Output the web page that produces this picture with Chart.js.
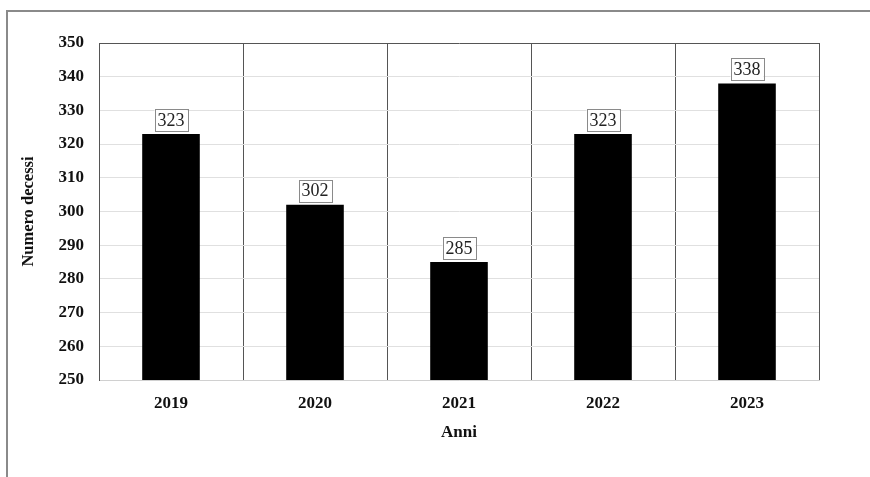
<!DOCTYPE html>
<html>
<head>
<meta charset="utf-8">
<script src="https://cdn.jsdelivr.net/npm/chart.js@4.4.1/dist/chart.umd.min.js"></script>
<style>
  html, body { margin: 0; padding: 0; background: #fff; }
  #wrap { position: relative; width: 870px; height: 477px; overflow: hidden; }
  #frame { position: absolute; left: 6px; top: 10px; width: 900px; height: 500px;
           border-left: 2px solid #8a8a8a; border-top: 2px solid #8a8a8a; }
  canvas { position: absolute; left: 0; top: 0; }
</style>
</head>
<body>
<div id="wrap">
  <div id="frame"></div>
  <canvas id="deaths-chart" width="870" height="477"></canvas>
</div>
<script>
var years = ["2019", "2020", "2021", "2022", "2023"];
var deaths = [323, 302, 285, 323, 338];
var yMin = 250;
var yMax = 350;
var yStep = 10;

var serif = "'Liberation Serif', 'Times New Roman', serif";

// boxed value above each bar
var boxLabels = {
  id: 'boxLabels',
  afterDatasetsDraw: function (chart) {
    var ctx = chart.ctx;
    var meta = chart.getDatasetMeta(0);
    ctx.save();
    ctx.font = "18px " + serif;
    ctx.textAlign = "center";
    ctx.textBaseline = "middle";
    meta.data.forEach(function (bar, i) {
      var text = String(deaths[i]);
      var w = ctx.measureText(text).width + 6;
      var h = 22;
      var bottom = bar.y - 3;
      ctx.fillStyle = "#fff";
      ctx.fillRect(bar.x - w / 2, bottom - h, w, h);
      ctx.strokeStyle = "#8a8a8a";
      ctx.lineWidth = 1;
      ctx.strokeRect(Math.round(bar.x - w / 2) + 0.5, Math.round(bottom - h) + 0.5, Math.round(w), h);
      ctx.fillStyle = "#222";
      ctx.fillText(text, bar.x, bottom - h / 2 + 1);
    });
    ctx.restore();
  }
};

var chartConfig = {
  type: 'bar',
  data: {
    labels: years,
    datasets: [
      {
        label: 'Numero decessi',
        data: deaths,
        backgroundColor: "#000",
        borderWidth: 0,
        barPercentage: 0.4,
        categoryPercentage: 1.0
      }
    ]
  },
  options: {
    responsive: false,
    animation: false,
    layout: {
      padding: { left: 10, right: 51, top: 43, bottom: 30 }
    },
    scales: {
      x: {
        grid: {
          offset: true,
          drawTicks: false,
          color: "#555"
        },
        border: { display: true, color: "#d0d0d0", width: 1 },
        ticks: {
          padding: 13,
          color: "#111",
          font: { family: serif, size: 17, weight: 'bold' }
        },
        title: {
          display: true,
          text: 'Anni',
          color: "#111",
          padding: { top: 4, bottom: 4 },
          font: { family: serif, size: 17, weight: 'bold' }
        },
        afterFit: function (scale) { scale.height = 67; }
      },
      y: {
        min: yMin,
        max: yMax,
        grid: {
          drawTicks: false,
          color: function (c) { return c.tick && c.tick.value === yMax ? "#555" : "#e0e0e0"; }
        },
        border: { display: true, color: "#555", width: 1 },
        ticks: {
          stepSize: yStep,
          padding: 15,
          color: "#111",
          font: { family: serif, size: 17, weight: 'bold' }
        },
        title: {
          display: true,
          text: 'Numero decessi',
          color: "#111",
          padding: { top: 9, bottom: 0 },
          font: { family: serif, size: 16.5, weight: 'bold' }
        },
        afterFit: function (scale) { scale.width = 89; }
      }
    },
    plugins: {
      legend: { display: false },
      tooltip: { enabled: false }
    }
  },
  plugins: [boxLabels]
};

var chart = new Chart(document.getElementById("deaths-chart"), chartConfig);
</script>
</body>
</html>
